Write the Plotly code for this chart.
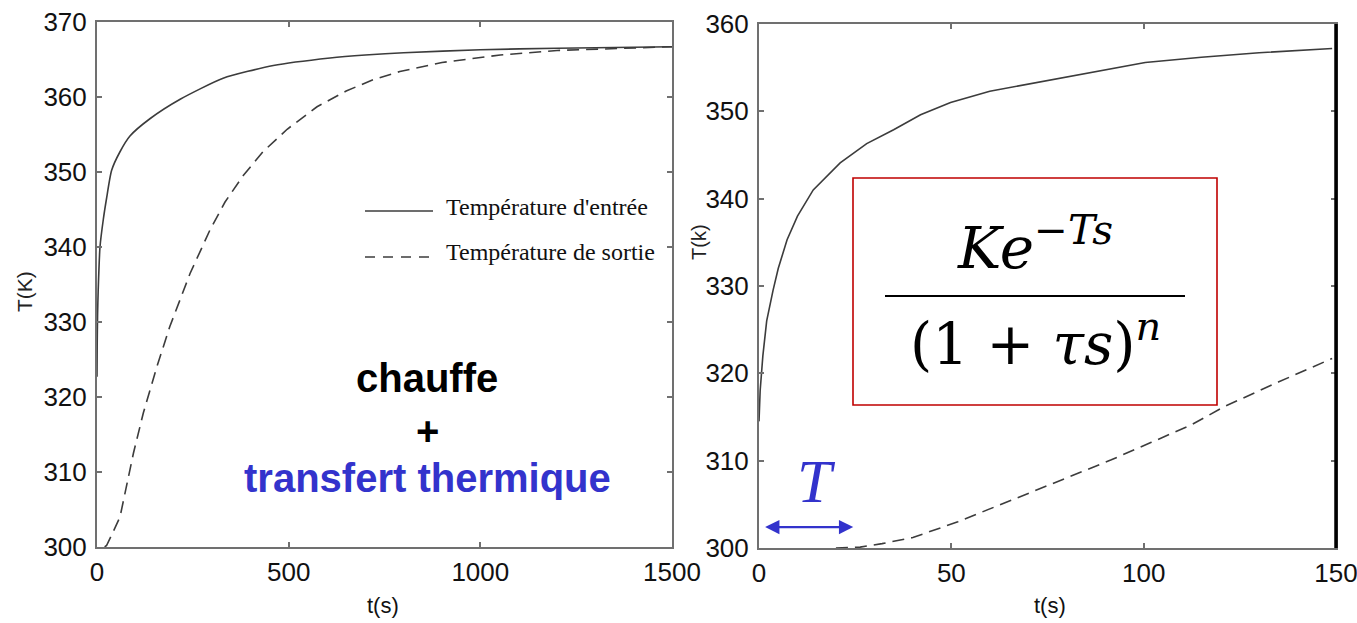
import plotly.graph_objects as go

W, H = 1357, 623
OFF = 0  # body margin removed via post_script

# ---------------- data ----------------
left_t_in = [0, 0.5, 1.5, 3, 7.8, 16.5, 25, 38, 60, 86, 138, 217, 329, 460, 608, 700, 800,
             1000, 1200, 1500]
left_T_in = [322.7, 327, 331, 334, 340, 343.7, 346.5, 350.2, 352.7, 354.8, 357.1, 359.7,
             362.5, 364.2, 365.2, 365.6, 365.9, 366.3, 366.5, 366.7]

left_t_out = [20, 25, 40, 60, 95, 121, 156, 190, 243, 295, 334, 381, 433, 496, 574, 650,
              720, 790, 900, 1052, 1200, 1350, 1500]
left_T_out = [300, 300.2, 301.8, 304, 312.5, 317.9, 324, 329.4, 336.5, 342.3, 346, 349.5,
              352.7, 355.7, 358.7, 360.8, 362.3, 363.4, 364.6, 365.6, 366.2, 366.5, 366.7]

right_t_in = [0, 0.3, 1, 2, 3.65, 5, 7.3, 10, 14.1, 21.1, 28, 35, 42, 49.8, 60, 76, 88,
              100.4, 115, 130, 149]
right_T_in = [314.5, 318, 322, 326, 329.5, 332, 335.3, 338, 341, 344.1, 346.3, 347.9,
              349.6, 351, 352.3, 353.6, 354.6, 355.6, 356.2, 356.7, 357.2]

right_t_out = [20, 26.3, 32, 40, 51.7, 63, 75.4, 91.6, 102, 112.4, 121, 135, 149]
right_T_out = [300, 300.1, 300.5, 301.2, 303, 305, 307.2, 310.1, 312.1, 314.1, 316.2, 319, 321.7]

left_xticks = [0, 500, 1000, 1500]
left_yticks = [300, 310, 320, 330, 340, 350, 360, 370]
right_xticks = [0, 50, 100, 150]
right_yticks = [300, 310, 320, 330, 340, 350, 360]

legend_names = ["Température d'entrée", "Température de sortie"]


def px(x):
    return (x - OFF) / W


def py(y):
    return 1 - (y - OFF) / H


LINE = "#3c3c3c"
AXC = "#707070"
BLUE = "#3333cc"
DASH = "12px,7px"

fig = go.Figure()
fig.add_trace(go.Scatter(x=left_t_in, y=left_T_in, mode="lines", xaxis="x", yaxis="y",
                         line=dict(color=LINE, width=1.6, shape="spline", smoothing=0.6),
                         name=legend_names[0], showlegend=False))
fig.add_trace(go.Scatter(x=left_t_out, y=left_T_out, mode="lines", xaxis="x", yaxis="y",
                         line=dict(color=LINE, width=1.6, dash=DASH), name=legend_names[1],
                         showlegend=False))
fig.add_trace(go.Scatter(x=right_t_in, y=right_T_in, mode="lines", xaxis="x2", yaxis="y2",
                         line=dict(color=LINE, width=1.6), name=legend_names[0],
                         showlegend=False))
fig.add_trace(go.Scatter(x=right_t_out, y=right_T_out, mode="lines", xaxis="x2", yaxis="y2",
                         line=dict(color=LINE, width=1.6, dash=DASH), name=legend_names[1],
                         showlegend=False))

tickfont = dict(family="Liberation Sans, Arial, sans-serif", size=26, color="#111111")
common = dict(showgrid=False, zeroline=False, showline=True, linecolor=AXC, linewidth=2,
              mirror="ticks", ticks="inside", ticklen=5, tickcolor=AXC, tickwidth=1.5,
              tickfont=tickfont, automargin=False, ticklabeloverflow="allow")

fig.update_layout(
    width=W, height=H,
    margin=dict(l=0, r=0, t=0, b=0),
    paper_bgcolor="white", plot_bgcolor="white",
    showlegend=False,
    xaxis=dict(domain=[px(97), px(672)], range=[0, 1500], tickvals=left_xticks,
               anchor="y", ticklabelstandoff=1, **common),
    yaxis=dict(domain=[py(547), py(22)], range=[300, 370], tickvals=left_yticks,
               anchor="x", ticklabelstandoff=3, **common),
    xaxis2=dict(domain=[px(759), px(1336)], range=[0, 150], tickvals=right_xticks,
                anchor="y2", ticklabelstandoff=1, **common),
    yaxis2=dict(domain=[py(548), py(24)], range=[300, 360], tickvals=right_yticks,
                anchor="x2", ticklabelstandoff=3, **common),
)

shapes = []
# thick black right border of right plot
shapes.append(dict(type="line", xref="paper", yref="paper", x0=px(1336), x1=px(1336),
                   y0=py(548), y1=py(24), line=dict(color="black", width=3.5)))
# legend samples
shapes.append(dict(type="line", xref="paper", yref="paper", x0=px(365), x1=px(433),
                   y0=py(211), y1=py(211), line=dict(color=LINE, width=1.3)))
shapes.append(dict(type="line", xref="paper", yref="paper", x0=px(365), x1=px(433),
                   y0=py(257), y1=py(257), line=dict(color=LINE, width=1.3, dash="10px,8px")))
# red box
shapes.append(dict(type="rect", xref="paper", yref="paper", x0=px(853), x1=px(1217),
                   y0=py(405), y1=py(178), line=dict(color="#c00000", width=1.6),
                   fillcolor="rgba(0,0,0,0)"))
# fraction bar
shapes.append(dict(type="line", xref="paper", yref="paper", x0=px(885), x1=px(1185),
                   y0=py(296), y1=py(296), line=dict(color="black", width=2.2)))
fig.update_layout(shapes=shapes)

serif = "Liberation Serif, Times New Roman, serif"
mathf = "DejaVu Serif, serif"
sans = "Liberation Sans, Arial, sans-serif"


def note(text, x, y, size, color="black", family=sans, angle=0, xanchor="center"):
    return dict(text=text, x=px(x), y=py(y), xref="paper", yref="paper", showarrow=False,
                xanchor=xanchor, yanchor="middle", textangle=angle,
                font=dict(family=family, size=size, color=color))


ann = [
    note("t(s)", 383, 605, 22, "#111"),
    note("t(s)", 1050, 605, 22, "#111"),
    note("T(K)", 24, 292, 21, "#222", angle=-90),
    note("T(k)", 699, 242, 20, "#222", angle=-90),
    note(legend_names[0], 444, 207, 24, "#111", family=serif, xanchor="left"),
    note(legend_names[1], 444, 252, 24, "#111", family=serif, xanchor="left"),
    note("<b>chauffe</b>", 427, 378, 40),
    note("<b>+</b>", 427, 431, 40),
    note("<b>transfert thermique</b>", 427, 478, 40, BLUE),
    note("<i>Ke</i><sup><i>−Ts</i></sup>", 1035, 244, 58, family=mathf),
    note("(1 + <i>τs</i>)<sup><i>n</i></sup>", 1035, 340, 57, family=mathf),
    note("<i>T</i>", 816, 481, 62, BLUE, family=serif),
]
ann.append(dict(x=24.5, y=302.4, xref="x2", yref="y2", ax=1.2, ay=302.4, axref="x2",
                ayref="y2", text="", showarrow=True, arrowhead=2, arrowside="end+start",
                arrowsize=1.3, arrowwidth=2.2, arrowcolor=BLUE))
fig.update_layout(annotations=ann)

fig.write_html("out.html", config={"displayModeBar": False},
               post_script="document.body.style.margin='0px';")
